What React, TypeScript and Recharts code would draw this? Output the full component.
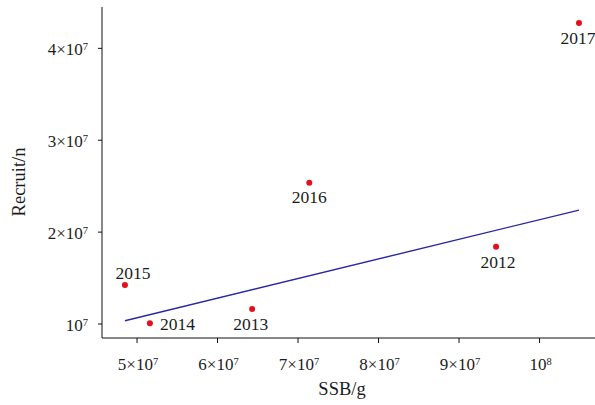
import React from "react";
import { ScatterChart, Scatter, XAxis, YAxis } from "recharts";

// Spawning stock biomass (g) and recruitment (n) by year
const years = [2012, 2013, 2014, 2015, 2016, 2017];
const ssb = [9.46e7, 6.43e7, 5.16e7, 4.85e7, 7.14e7, 10.49e7];
const recruit = [1.841e7, 1.163e7, 1.007e7, 1.424e7, 2.537e7, 4.275e7];

// Fitted stock–recruitment line (end points)
const fitSsb = [4.85e7, 10.49e7];
const fitRecruit = [1.036e7, 2.24e7];

const xTicks = [5e7, 6e7, 7e7, 8e7, 9e7, 1e8];
const yTicks = [1e7, 2e7, 3e7, 4e7];

const points = years.map((year, i) => ({ year, x: ssb[i], y: recruit[i] }));
const fitLine = fitSsb.map((x, i) => ({ x, y: fitRecruit[i] }));

// Where each year label sits relative to its point
const labelPlacement: Record<number, { dx: number; dy: number; anchor: string }> = {
  2012: { dx: 2, dy: 15, anchor: "middle" },
  2013: { dx: -1.5, dy: 15, anchor: "middle" },
  2014: { dx: 10, dy: 0.7, anchor: "start" },
  2015: { dx: 8, dy: -12, anchor: "middle" },
  2016: { dx: 0, dy: 14, anchor: "middle" },
  2017: { dx: -1, dy: 15, anchor: "middle" },
};

const FONT = "'Liberation Serif', 'Times New Roman', serif";
const TEXT = "#1c1c1c";

function splitPower(v: number) {
  const exp = Math.floor(Math.log10(v) + 1e-9);
  const mant = Math.round(v / Math.pow(10, exp));
  return { mant, exp };
}

function PowerText({ x, y, value, anchor }: { x: number; y: number; value: number; anchor: string }) {
  const { mant, exp } = splitPower(value);
  return (
    <text x={x} y={y} textAnchor={anchor} fontFamily={FONT} fontSize={17} fill={TEXT}>
      {mant === 1 ? "10" : `${mant}\u00d710`}
      <tspan fontSize={10.5} dy={-5}>
        {exp}
      </tspan>
    </text>
  );
}

const XTick = (props: any) => {
  const { x, payload } = props;
  return <PowerText x={x + 1} y={370} value={payload.value} anchor="middle" />;
};

const YTick = (props: any) => {
  const { y, payload } = props;
  return <PowerText x={88} y={y + 6.5} value={payload.value} anchor="end" />;
};

const YearPoint = (props: any) => {
  const { cx, cy, payload } = props;
  const p = labelPlacement[payload.year];
  return (
    <g>
      <circle cx={cx} cy={cy} r={3} fill="#e3101c" />
      <text
        x={cx + p.dx}
        y={cy + p.dy}
        textAnchor={p.anchor}
        dominantBaseline="central"
        fontFamily={FONT}
        fontSize={17.5}
        fill={TEXT}
      >
        {payload.year}
      </text>
    </g>
  );
};

const NoShape = () => <g />;

export default function App() {
  return (
    <div style={{ position: "absolute", left: 0, top: 0, background: "#fff" }}>
      <ScatterChart
        width={595}
        height={405}
        margin={{ top: 7, right: 0, bottom: 0, left: 0 }}
      >
        <XAxis
          type="number"
          dataKey="x"
          domain={[4.565e7, 10.689e7]}
          allowDataOverflow
          ticks={xTicks}
          tick={<XTick />}
          tickSize={5}
          tickMargin={0}
          height={67}
          stroke="#111"
          tickLine={{ stroke: "#111" }}
          label={() => (
            <text x={342} y={395} textAnchor="middle" fontFamily={FONT} fontSize={18.5} fill={TEXT}>
              SSB/g
            </text>
          )}
        />
        <YAxis
          type="number"
          dataKey="y"
          domain={[0.8477e7, 4.45e7]}
          allowDataOverflow
          ticks={yTicks}
          tick={<YTick />}
          tickSize={4}
          tickMargin={0}
          width={102}
          stroke="#111"
          tickLine={{ stroke: "#111" }}
          label={() => (
            <text
              x={25}
              y={182}
              transform="rotate(-90 25 182)"
              textAnchor="middle"
              fontFamily={FONT}
              fontSize={18.5}
              fill={TEXT}
            >
              Recruit/n
            </text>
          )}
        />
        <Scatter
          data={fitLine}
          line={{ stroke: "#2828a4", strokeWidth: 1.4 }}
          shape={<NoShape />}
          isAnimationActive={false}
          legendType="none"
        />
        <Scatter data={points} shape={<YearPoint />} isAnimationActive={false} />
      </ScatterChart>
    </div>
  );
}
